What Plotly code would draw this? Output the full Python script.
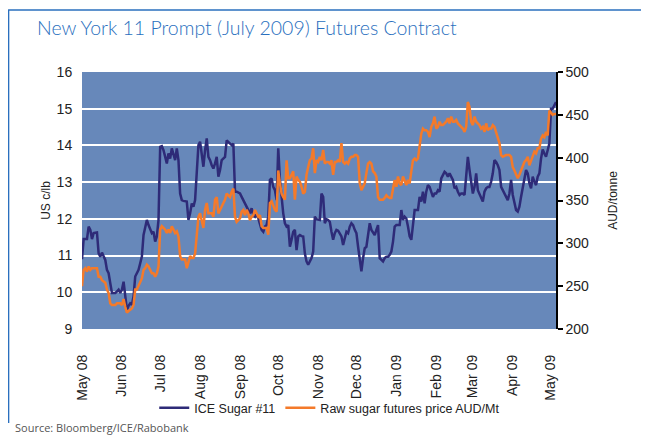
import pandas as pd
import plotly.graph_objects as go

# ---------------- data ----------------
start_date = "2008-05-01"
end_date = "2009-05-05"

ice_sugar_11 = [
    10.90, 11.45, 11.45, 11.45, 11.79, 11.70, 11.45, 11.61, 11.62, 11.63,
    11.06, 10.97, 11.08, 10.97, 10.88, 10.61, 10.52, 10.25, 9.98, 9.98,
    9.98, 10.02, 10.07, 9.98, 10.07, 10.29, 9.89, 9.52, 9.63, 9.70,
    9.66, 9.89, 10.43, 10.52, 10.61, 10.79, 10.97, 11.56, 11.79, 11.97,
    11.83, 11.70, 11.61, 11.65, 11.38, 11.52, 11.97, 13.96, 13.98, 13.87,
    13.69, 13.51, 13.78, 13.64, 13.92, 13.74, 13.60, 13.92, 13.60, 12.69,
    12.51, 12.49, 12.47, 12.47, 11.97, 12.15, 12.42, 12.33, 12.51, 13.33,
    14.01, 14.10, 13.69, 13.42, 13.87, 14.19, 13.69, 13.60, 13.46, 13.37,
    13.51, 13.69, 13.15, 13.33, 13.60, 13.64, 13.69, 14.14, 14.10, 14.05,
    14.01, 14.05, 12.74, 12.74, 12.72, 12.69, 12.60, 12.51, 12.42, 12.33,
    12.24, 12.15, 12.29, 12.11, 12.06, 12.15, 12.01, 11.88, 11.70, 11.65,
    11.79, 11.83, 12.06, 13.06, 13.10, 12.87, 12.78, 12.51, 13.92, 13.06,
    12.51, 12.15, 11.88, 11.79, 11.83, 11.24, 11.43, 11.65, 11.70, 11.15,
    11.52, 11.56, 11.53, 11.52, 11.06, 10.84, 10.75, 10.84, 10.93, 11.11,
    12.06, 11.99, 11.99, 11.97, 12.69, 12.60, 11.88, 11.99, 11.97, 11.92,
    11.65, 11.43, 11.61, 11.70, 11.68, 11.61, 11.52, 11.29, 11.47, 11.65,
    11.61, 11.79, 11.88, 11.83, 11.70, 11.61, 11.24, 10.88, 10.57, 10.93,
    11.20, 11.24, 11.61, 11.88, 11.70, 11.61, 11.56, 11.70, 11.83, 10.93,
    10.88, 10.84, 10.93, 10.97, 10.97, 11.02, 11.11, 11.38, 11.79, 11.83,
    11.83, 11.83, 12.24, 11.97, 12.06, 12.01, 11.79, 11.52, 11.43, 11.79,
    12.24, 12.24, 12.24, 12.60, 12.47, 12.74, 12.42, 12.74, 12.92, 12.87,
    12.74, 12.60, 12.69, 12.69, 12.78, 12.74, 13.10, 13.19, 13.28, 13.24,
    13.15, 13.24, 13.15, 13.06, 12.83, 12.87, 12.74, 12.65, 12.69, 12.69,
    12.65, 13.24, 13.69, 13.33, 12.97, 12.69, 12.87, 13.24, 12.78, 12.69,
    12.60, 12.47, 12.74, 12.83, 12.87, 12.87, 13.01, 13.24, 13.60, 13.55,
    13.46, 13.33, 12.87, 12.78, 12.69, 12.60, 12.51, 12.69, 13.06, 12.65,
    12.42, 12.24, 12.20, 12.33, 12.60, 12.87, 13.10, 13.33, 13.24, 12.97,
    12.83, 13.15, 13.01, 12.92, 13.15, 13.24, 13.64, 13.89, 13.78, 13.69,
    13.87, 14.05, 15.00, 15.00, 15.09, 15.18,
]

raw_sugar_aud = [
    250, 269, 271, 267, 273, 269, 271, 271, 271, 271,
    261, 261, 257, 255, 254, 246, 242, 230, 228, 228,
    228, 230, 230, 230, 228, 235, 226, 219, 221, 223,
    224, 228, 246, 246, 250, 254, 259, 269, 271, 275,
    273, 269, 265, 265, 261, 265, 273, 316, 320, 318,
    316, 312, 316, 312, 320, 316, 312, 314, 308, 285,
    281, 281, 281, 271, 277, 285, 283, 283, 288, 308,
    331, 335, 327, 318, 339, 347, 335, 335, 335, 331,
    351, 354, 335, 339, 343, 347, 351, 358, 356, 354,
    360, 364, 331, 325, 327, 329, 337, 339, 333, 339,
    335, 327, 331, 333, 339, 335, 331, 333, 320, 318,
    318, 318, 310, 347, 349, 343, 339, 337, 385, 370,
    358, 354, 351, 397, 376, 376, 380, 384, 351, 378,
    374, 372, 366, 358, 360, 380, 389, 397, 399, 411,
    382, 397, 395, 401, 397, 409, 393, 395, 395, 393,
    397, 380, 395, 395, 397, 395, 417, 395, 393, 395,
    393, 399, 401, 401, 403, 403, 401, 370, 362, 366,
    370, 382, 393, 395, 393, 384, 382, 378, 354, 351,
    351, 351, 353, 356, 354, 353, 353, 362, 374, 366,
    378, 370, 368, 378, 374, 368, 374, 370, 384, 397,
    399, 397, 399, 417, 428, 434, 432, 432, 430, 424,
    436, 440, 448, 434, 436, 442, 438, 438, 440, 442,
    446, 440, 448, 442, 442, 444, 440, 438, 436, 434,
    430, 436, 465, 459, 442, 438, 448, 442, 440, 438,
    434, 436, 430, 440, 432, 434, 434, 438, 436, 430,
    422, 417, 403, 401, 402, 403, 403, 403, 401, 389,
    385, 380, 376, 380, 385, 389, 395, 397, 401, 391,
    397, 403, 407, 405, 411, 411, 422, 426, 424, 430,
    426, 455, 453, 450, 451, 451,
]

month_ticks = pd.date_range("2008-05-01", "2009-05-01", freq="MS")
month_labels = [d.strftime("%b %y") for d in month_ticks]

left_ticks = [9, 10, 11, 12, 13, 14, 15, 16]
right_ticks = [200, 250, 300, 350, 400, 450, 500]

title_text = "New York 11 Prompt (July 2009) Futures Contract"
source_text = "Source: Bloomberg/ICE/Rabobank"
name_ice = "ICE Sugar #11"
name_raw = "Raw sugar futures price AUD/Mt"

dates = pd.date_range(start_date, end_date, periods=len(ice_sugar_11))

# ---------------- style ----------------
# The page body has an 8px default margin, so the figure is drawn 8px in
# from the window's top-left corner; positions below are given in window
# pixels and converted.
OFF = 8
W, H = 649 - OFF, 435 - OFF
PLOT_L, PLOT_R, PLOT_T, PLOT_B = 82, 556.5, 72, 329   # window pixels
ML, MT = PLOT_L - OFF, PLOT_T - OFF
MR = W - (PLOT_R - OFF)
MB = H - (PLOT_B - OFF)
PW, PH = W - ML - MR, H - MT - MB

def px_x(px):
    return (px - PLOT_L) / PW

def px_y(py):
    return (PLOT_B - py) / PH

NAVY = "#2e2b78"
ORANGE = "#f47a2a"
BG = "#6788ba"
FRAME = "#2a6fbe"
TICKFONT = "Liberation Sans Narrow, Arial Narrow, Liberation Sans, Arial, sans-serif"

fig = go.Figure()
fig.add_trace(go.Scatter(x=dates, y=ice_sugar_11, name=name_ice, mode="lines",
                         line=dict(color=NAVY, width=2.5), yaxis="y"))
fig.add_trace(go.Scatter(x=dates, y=raw_sugar_aud, name=name_raw, mode="lines",
                         line=dict(color=ORANGE, width=2.5), yaxis="y2"))

fig.update_layout(
    width=W, height=H, autosize=False,
    margin=dict(l=ML, r=MR, t=MT, b=MB, pad=0, autoexpand=False),
    paper_bgcolor="white", plot_bgcolor=BG,
    showlegend=True,
    legend=dict(orientation="h", x=px_x(330), xanchor="center",
                y=px_y(408), yanchor="middle",
                font=dict(family="Liberation Sans, Arial, sans-serif", size=12.5, color="#222"),
                bgcolor="rgba(0,0,0,0)", itemwidth=30, tracegroupgap=0),
    xaxis=dict(type="date", range=[dates[0], dates[-1]], automargin=False,
               tickvals=list(month_ticks), ticktext=month_labels,
               tickangle=-90, ticks="", showgrid=False, zeroline=False,
               showline=False, ticklabelstandoff=22,
               tickfont=dict(family=TICKFONT, size=14, color="#222")),
    yaxis=dict(range=[9, 16], tickvals=left_ticks, showgrid=True, automargin=False,
               gridcolor="white", gridwidth=1.6, zeroline=False, showline=False,
               ticks="outside", ticklen=6, tickcolor="rgba(0,0,0,0)",
               tickfont=dict(family=TICKFONT, size=14, color="#222"),
               title=dict(text="US c/lb", standoff=3,
                          font=dict(family=TICKFONT, size=12, color="#222"))),
    yaxis2=dict(range=[200, 500], tickvals=right_ticks, overlaying="y", side="right",
                showgrid=False, zeroline=False, showline=True, linecolor="black",
                linewidth=1.5, ticks="outside", ticklen=5, tickcolor="black",
                tickwidth=1.5, automargin=False,
                tickfont=dict(family=TICKFONT, size=14, color="#222"),
                title=dict(text="AUD/tonne", standoff=20,
                           font=dict(family=TICKFONT, size=12, color="#222"))),
)

# frame lines around the chart
fig.add_shape(type="line", xref="paper", yref="paper",
              x0=px_x(8), x1=px_x(660), y0=px_y(10), y1=px_y(10),
              line=dict(color=FRAME, width=1.5))
fig.add_shape(type="line", xref="paper", yref="paper",
              x0=px_x(8.5), x1=px_x(8.5), y0=px_y(10), y1=px_y(423),
              line=dict(color=FRAME, width=1.5))

fig.add_annotation(text=title_text, xref="paper", yref="paper",
                   x=px_x(35), y=px_y(28), xanchor="left", yanchor="middle",
                   showarrow=False,
                   font=dict(family="Lato, Open Sans, sans-serif", size=19.5,
                             color=FRAME, weight=300))
fig.add_annotation(text=source_text, xref="paper", yref="paper",
                   x=px_x(13), y=px_y(427), xanchor="left", yanchor="middle",
                   showarrow=False,
                   font=dict(family="Open Sans, sans-serif", size=11, color="#555"))

fig.write_html("out.html")
